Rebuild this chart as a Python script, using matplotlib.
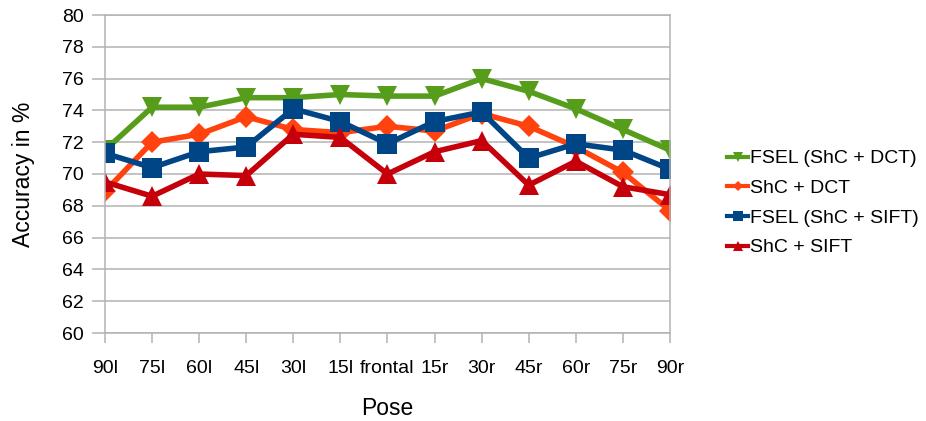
import matplotlib
matplotlib.use("Agg")
import matplotlib.pyplot as plt

plt.rcParams['font.family'] = ['Liberation Sans', 'DejaVu Sans']

poses = ["90l", "75l", "60l", "45l", "30l", "15l", "frontal", "15r", "30r", "45r", "60r", "75r", "90r"]

fsel_shc_dct = [71.5, 74.2, 74.2, 74.8, 74.8, 75.0, 74.9, 74.9, 76.0, 75.2, 74.1, 72.8, 71.5]
shc_dct = [68.9, 72.0, 72.5, 73.6, 72.8, 72.6, 73.0, 72.7, 73.8, 73.0, 71.7, 70.1, 67.7]
fsel_shc_sift = [71.3, 70.4, 71.4, 71.7, 74.1, 73.3, 71.9, 73.3, 73.9, 71.0, 71.9, 71.5, 70.3]
shc_sift = [69.5, 68.6, 70.0, 69.9, 72.5, 72.3, 70.0, 71.4, 72.1, 69.3, 70.8, 69.2, 68.7]

y_ticks = list(range(60, 81, 2))

fig = plt.figure(figsize=(9.26, 4.21), dpi=100)
ax = fig.add_axes([105 / 926, 1 - 333 / 421, 565 / 926, 318 / 421])

x = list(range(len(poses)))
series = [
    ("FSEL (ShC + DCT)", fsel_shc_dct, "#579d1c", "v", 15),
    ("ShC + DCT", shc_dct, "#ff420e", "D", 11),
    ("FSEL (ShC + SIFT)", fsel_shc_sift, "#004586", "s", 14.5),
    ("ShC + SIFT", shc_sift, "#c5000b", "^", 15),
]
for label, vals, color, marker, ms in series:
    ax.plot(x, vals, color=color, lw=4, marker=marker, markersize=ms,
            markeredgewidth=0, label=label, solid_joinstyle='miter')

ax.set_xlim(0, len(poses) - 1)
ax.set_ylim(60, 80)
ax.set_yticks(y_ticks)
ax.set_xticks(x)
ax.set_xticklabels(poses)
ax.grid(axis='y', color='#b3b3b3', lw=1.1)
ax.set_axisbelow(True)
for sp in ax.spines.values():
    sp.set_color('#b3b3b3')
    sp.set_linewidth(1.1)
ax.tick_params(axis='both', colors='#b3b3b3', width=1.1,
               labelcolor='#000000', labelsize=14)
ax.tick_params(axis='x', length=7.5, pad=12)
ax.tick_params(axis='y', length=9.5, pad=6)

ax.set_ylabel("Accuracy in %", fontsize=16.5, labelpad=19)
ax.set_xlabel("Pose", fontsize=16.5, labelpad=14)

leg = ax.legend(loc='center left', bbox_to_anchor=((727 - 105) / 565, (333 - 203) / 318),
                frameon=False, fontsize=14, handlelength=1.1, handletextpad=0.1,
                labelspacing=0.62, markerscale=0.45, borderpad=0, borderaxespad=0)
for h in leg.get_lines():
    h.set_linewidth(3)

fig.savefig("out.png", dpi=100)
